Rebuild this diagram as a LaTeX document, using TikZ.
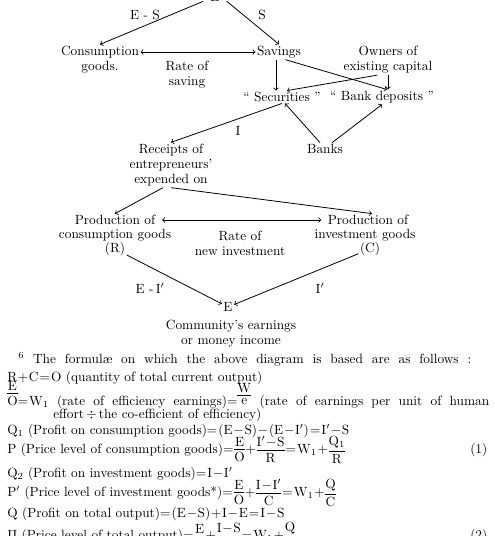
\documentclass[tikz,border=0pt]{standalone}
\usepackage{amsmath}

% compact fraction with upright letters
\newcommand{\ratio}[2]{\vcenter{\offinterlineskip\halign{\hfil##\hfil\cr
  $\mathrm{#1}$\cr\noalign{\kern2pt\hrule\kern2pt}$\mathrm{#2}$\cr}}}

\tikzset{
  flow/.style={->, line width=0.6pt},
  eq/.style={anchor=base west, inner sep=0pt}
}

\begin{document}
\medmuskip=1mu
\thickmuskip=1.5mu
\begin{tikzpicture}[x=0.75pt, y=-0.75pt, >=to,
    font=\fontsize{10}{11.3}\selectfont, every node/.style={inner sep=1pt}]
    \useasboundingbox (0,0) rectangle (494,536);
    \clip (0,0) rectangle (494,536);

    % 1. Nodes of the diagram
    \node[inner xsep=5.2pt, inner ysep=0pt] (earnTop) at (215,-3.5) {E};
    \node (cons) at (100,52) {Consumption};
    \node (consgoods) at (100,67) {goods.};
    \node (sav) at (279,52) {Savings};
    \node[align=center] (ratesav) at (187,75) {Rate of\\saving};
    \node[align=center] (owners) at (388,60) {Owners of\\existing capital};
    \node (sec) at (282,97) {`` Securities ''};
    \node (bank) at (382,97) {`` Bank deposits ''};
    \node (banks) at (325,149) {Banks};
    \node[align=center] (receipts) at (171,165) {Receipts of\\entrepreneurs'\\expended on};
    \node (pcons) at (115,220) {Production of};
    \node (pconsgoods) at (115,235) {consumption goods};
    \node (pconsR) at (115,249) {(R)};
    \node (pinv) at (368,220) {Production of};
    \node (pinvgoods) at (365,235) {investment goods};
    \node (pinvC) at (370,249) {(C)};
    \node[align=center] (rateinv) at (240,243) {Rate of\\new investment};
    \node (earn) at (228,307) {E};
    \node[align=center] (comm) at (231,334) {Community's earnings\\or money income};

    % labels of the flows
    \node (lblES) at (145,15) {E\,\,-\,\,S};
    \node (lblS) at (262,15) {S};
    \node (lblI) at (238,131) {I};
    \node (lblEI) at (150,288) {E\,\,-\,I$'$};
    \node (lblIp) at (320,288) {I$'$};

    % 2. Flows
    \draw[flow] (earnTop.south west) -- (cons.north);
    \draw[flow] (earnTop.south east) -- (sav.north);
    \draw[flow, <->] (cons) -- (sav);
    \draw[flow] ([xshift=-2.25pt]sav.south) -- ([xshift=-2.25pt]sav.south |- sec.north);
    \draw[flow] (sav.-50) -- ([xshift=3.75pt]bank.north);
    \draw[flow] ([xshift=-8.25pt]owners.south) -- ([xshift=3.75pt]sec.north);
    \draw[flow] (owners.south) -- (owners.south |- bank.north);
    \draw[flow] ([xshift=-3.75pt]banks.north) -- ([xshift=2.25pt]sec.south);
    \draw[flow] ([xshift=5.25pt]banks.north) -- (bank.south);
    \draw[flow] (sec.south) -- (receipts.north);
    \draw[flow] ([xshift=-6pt]receipts.south) -- (pcons.north);
    \draw[flow] (receipts.south) -- ([xshift=3pt]pinv.north);
    \draw[flow, <->, shorten <=4pt, shorten >=3.75pt] (pcons) -- (pinv);
    \draw[flow] (pconsR) -- (earn);
    \draw[flow] (pinvC) -- (earn);

    % 3. Footnote with the formulae
    \node[eq] (fnote) at (18,363) {\makebox[339.75pt][s]{\textsuperscript{6} The formul\ae{} on which the above diagram is based are as follows :}};
    \node[eq] (fOut) at (7,381) {$\mathrm{R+C=O}$ (quantity of total current output)};
    \node[eq] (fEff) at (7,405) {\makebox[361.5pt][s]{\raisebox{6pt}{$\ratio{E}{O}$}$=\mathrm{W_1}$ (rate of efficiency earnings)$=$\raisebox{6pt}{$\ratio{W}{e}$} (rate of earnings per unit of human}};
    \node[eq] (fEffb) at (53,418) {effort\,$\div$\,the co-efficient of efficiency)};
    \node[eq] (fQone) at (7,434.5) {$\mathrm{Q_1}$ (Profit on consumption goods)$=\mathrm{(E-S)-(E-I')=I'-S}$};
    \node[eq] (fP) at (7,453) {P (Price level of consumption goods)$=\ratio{E}{O}+\ratio{I'-S}{R}=\mathrm{W_1}+\ratio{Q_1}{R}$};
    \node[eq] (numOne) at (470,453) {(1)};
    \node[eq] (fQtwo) at (7,477.5) {$\mathrm{Q_2}$ (Profit on investment goods)$=\mathrm{I-I'}$};
    \node[eq] (fPp) at (7,496) {P$'$ (Price level of investment goods*)$=\ratio{E}{O}+\ratio{I-I'}{C}=\mathrm{W_1}+\ratio{Q}{C}$};
    \node[eq] (fQ) at (7,517.5) {Q (Profit on total output)$=\mathrm{(E-S)+I-E=I-S}$};
    \node[eq] (fPi) at (7,539.5) {$\Pi$ (Price level of total output)$=\ratio{E}{O}+\ratio{I-S}{O}=\mathrm{W_1}+\ratio{Q}{O}$};
    \node[eq] (numTwo) at (470,539) {(2)};

\end{tikzpicture}
\end{document}
